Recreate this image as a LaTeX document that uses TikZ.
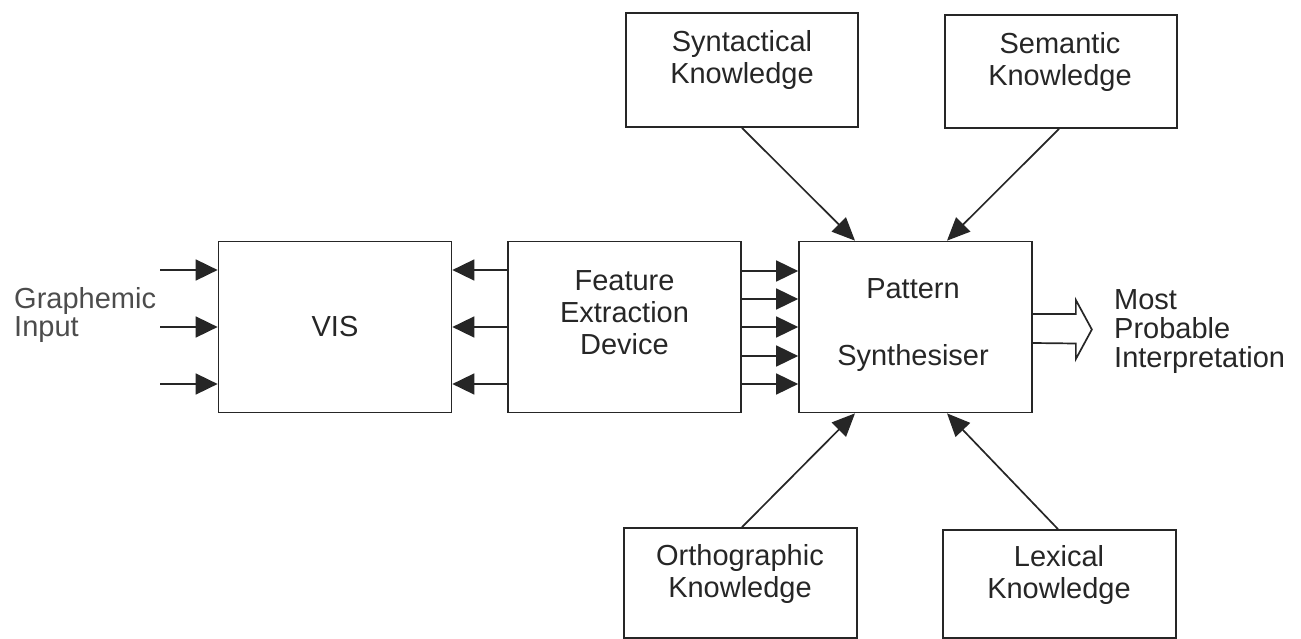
\documentclass[tikz,border=0pt]{standalone}
\usepackage{fontspec}
\setmainfont{Liberation Sans}
\usetikzlibrary{arrows.meta}
\begin{document}
\begin{tikzpicture}[x=1pt,y=-1pt,
  box/.style={draw=black!85,line width=1.7pt,inner sep=0pt,minimum width=233pt},
  arr/.style={draw=black!85,line width=1.7pt,-{Triangle[length=22pt,width=21pt]}},
  darr/.style={draw=black!85,line width=1.7pt,-{Triangle[length=23pt,width=20pt]}},
  lbl/.style={font=\fontsize{29}{32}\selectfont,text=black!85,align=center,inner sep=0pt}]
\useasboundingbox (0,0) rectangle (1301,639);
% main boxes
\node[box,minimum height=171pt] (vis)  at (335,327) {};
\node[box,minimum height=171pt] (feat) at (624.5,327) {};
\node[box,minimum height=171pt] (pat)  at (915.5,327) {};
% knowledge boxes
\node[box,minimum width=232pt,minimum height=114pt] (syn) at (742,70) {};
\node[box,minimum width=232pt,minimum height=113pt] (sem) at (1061,71.5) {};
\node[box,minimum height=110pt] (orth) at (740.5,583) {};
\node[box,minimum height=108pt] (lex)  at (1059.5,584) {};
% texts
\node[lbl] (tvis) at (vis.center) {VIS};
\node[lbl] (tfeat) at (624.5,312.5) {Feature\\Extraction\\Device};
\node[lbl] (tpat) at (913,325.5) {Pattern\\[35pt]Synthesiser};
\node[lbl] (tsyn) at (742,60) {Syntactical\\Knowledge};
\node[lbl] (tsem) at (1060,62) {Semantic\\Knowledge};
\node[lbl] (torth) at (740,574) {Orthographic\\Knowledge};
\node[lbl] (tlex) at (1059,575) {Lexical\\Knowledge};
\node[lbl,align=left,anchor=west,font=\fontsize{29}{28}\selectfont,text=black!70] (tin) at (14,315) {Graphemic\\Input};
\node[lbl,align=left,anchor=west,font=\fontsize{29}{29}\selectfont] (tout) at (1114,332) {Most\\Probable\\Interpretation};
% graphemic input arrows
\coordinate (i1) at (160,270);
\coordinate (i2) at (160,327);
\coordinate (i3) at (160,384);
\foreach \c in {i1,i2,i3} \draw[arr] (\c) -- (\c -| vis.west);
% feature -> VIS
\foreach \d in {57,0,-57} \draw[arr] ([yshift=\d pt]feat.west) -- ([yshift=\d pt]vis.east);
% feature -> pattern
\foreach \d in {56,28,0,-29,-57} \draw[arr] ([yshift=\d pt]feat.east) -- ([yshift=\d pt]pat.west);
% knowledge arrows
\draw[darr] (syn.south) -- ([xshift=-60.5pt]pat.north);
\draw[darr] ([xshift=-2pt]sem.south) -- ([xshift=31.5pt]pat.north);
\draw[darr] ([xshift=1.5pt]orth.north) -- ([xshift=-60.5pt]pat.south);
\draw[darr] ([xshift=-1.5pt]lex.north) -- ([xshift=31.5pt]pat.south);
% hollow output arrow
\draw[draw=black!85,line width=1.7pt,line join=miter]
  ([yshift=13pt]pat.east) -- ++(43,0) -- ++(0,-14) -- ++(16,29.5) -- ++(-16,29.5) -- ++(0,-15.5) -- ([yshift=-16pt]pat.east);
\end{tikzpicture}
\end{document}
